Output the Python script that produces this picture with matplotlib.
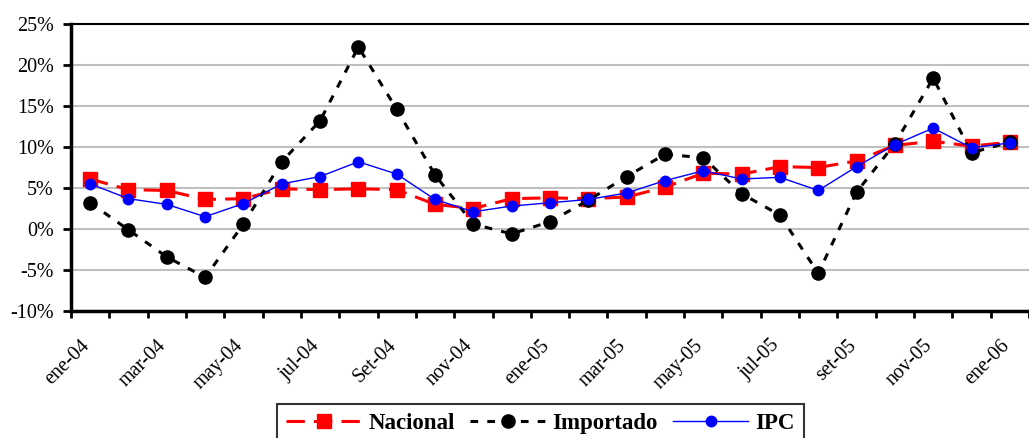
import matplotlib
matplotlib.use('Agg')
import matplotlib.pyplot as plt
import matplotlib.transforms as mtransforms
import numpy as np
from matplotlib.ticker import FuncFormatter

# Monthly categories ene-04 .. ene-06
months = ['ene-04', 'feb-04', 'mar-04', 'abr-04', 'may-04', 'jun-04', 'jul-04', 'ago-04',
          'Set-04', 'oct-04', 'nov-04', 'dic-04', 'ene-05', 'feb-05', 'mar-05', 'abr-05',
          'may-05', 'jun-05', 'jul-05', 'ago-05', 'set-05', 'oct-05', 'nov-05', 'dic-05',
          'ene-06']

nacional = [6.1, 4.8, 4.7, 3.6, 3.7, 4.9, 4.8, 4.9, 4.8, 3.0, 2.5, 3.7, 3.8,
            3.7, 3.9, 5.1, 6.8, 6.7, 7.6, 7.5, 8.3, 10.2, 10.7, 10.1, 10.6]
importado = [3.2, -0.1, -3.4, -5.9, 0.6, 8.2, 13.2, 22.2, 14.6, 6.6, 0.6, -0.6, 0.9,
             3.5, 6.4, 9.1, 8.7, 4.3, 1.7, -5.4, 4.5, 10.4, 18.4, 9.3, 10.6]
ipc = [5.5, 3.7, 3.0, 1.5, 3.1, 5.5, 6.4, 8.2, 6.7, 3.6, 2.1, 2.8, 3.2,
       3.6, 4.4, 5.9, 7.1, 6.1, 6.3, 4.7, 7.6, 10.3, 12.3, 9.9, 10.5]

plt.rcParams['font.family'] = 'Liberation Serif'

fig = plt.figure(figsize=(10.29, 4.38), dpi=100)
ax = fig.add_axes([71 / 1029, 1 - 311 / 438, 1 - 71 / 1029, (311 - 24) / 438])

x = np.arange(len(months))

ax.plot(x, nacional, color='red', linestyle=(0, (6, 3)), linewidth=2.2,
        marker='s', markersize=9.5, label='Nacional', zorder=3, clip_on=False)
ax.plot(x, importado, color='black', linestyle=(0, (2.5, 3)), linewidth=2.2,
        marker='o', markersize=9.5, label='Importado', zorder=4, clip_on=False)
ax.plot(x, ipc, color='blue', linestyle='-', linewidth=1,
        marker='o', markersize=7.5, label='IPC', zorder=5, clip_on=False)

ax.set_ylim(-10, 25)
ax.set_xlim(-0.5, 24.22)
ax.set_yticks(np.arange(-10, 26, 5))
ax.yaxis.set_major_formatter(FuncFormatter(lambda v, p: f'{v:.0f}%'))
ax.yaxis.grid(True, color='#c0c0c0', linewidth=1.5)
ax.set_axisbelow(True)

# tick marks between categories, labels every two months
ax.set_xticks(np.arange(-0.5, 25, 1))
ax.set_xticklabels([])
ax.set_xticks(x[::2], minor=True)
ax.set_xticklabels(months[::2], minor=True, rotation=45, ha='right',
                   va='top', rotation_mode='anchor')
ax.tick_params(axis='x', which='minor', length=0, pad=18, labelsize=14.5)
ax.tick_params(axis='x', which='major', length=5, width=2, direction='out')
ax.tick_params(axis='y', length=5.5, width=2, direction='out', pad=7, labelsize=14.5)

# shift the rotated labels a little to the left, like the original
shift = mtransforms.ScaledTranslation(-0.1, 0, fig.dpi_scale_trans)
for lbl in ax.get_xticklabels(minor=True):
    lbl.set_transform(lbl.get_transform() + shift)

for s in ['left', 'bottom']:
    ax.spines[s].set_linewidth(2.5)
ax.spines['top'].set_linewidth(1.5)
ax.spines['right'].set_visible(False)

leg = fig.legend(loc='upper left', bbox_to_anchor=(277 / 1029, 1 - 404 / 438),
                 ncol=3, frameon=True, fancybox=False, edgecolor='black',
                 prop={'weight': 'bold', 'size': 16.5}, handlelength=3.3,
                 columnspacing=0.65, handletextpad=0.3, borderpad=0.4,
                 borderaxespad=0)
leg.get_frame().set_linewidth(1.5)

fig.savefig('out.png', dpi=100)
plt.close()
